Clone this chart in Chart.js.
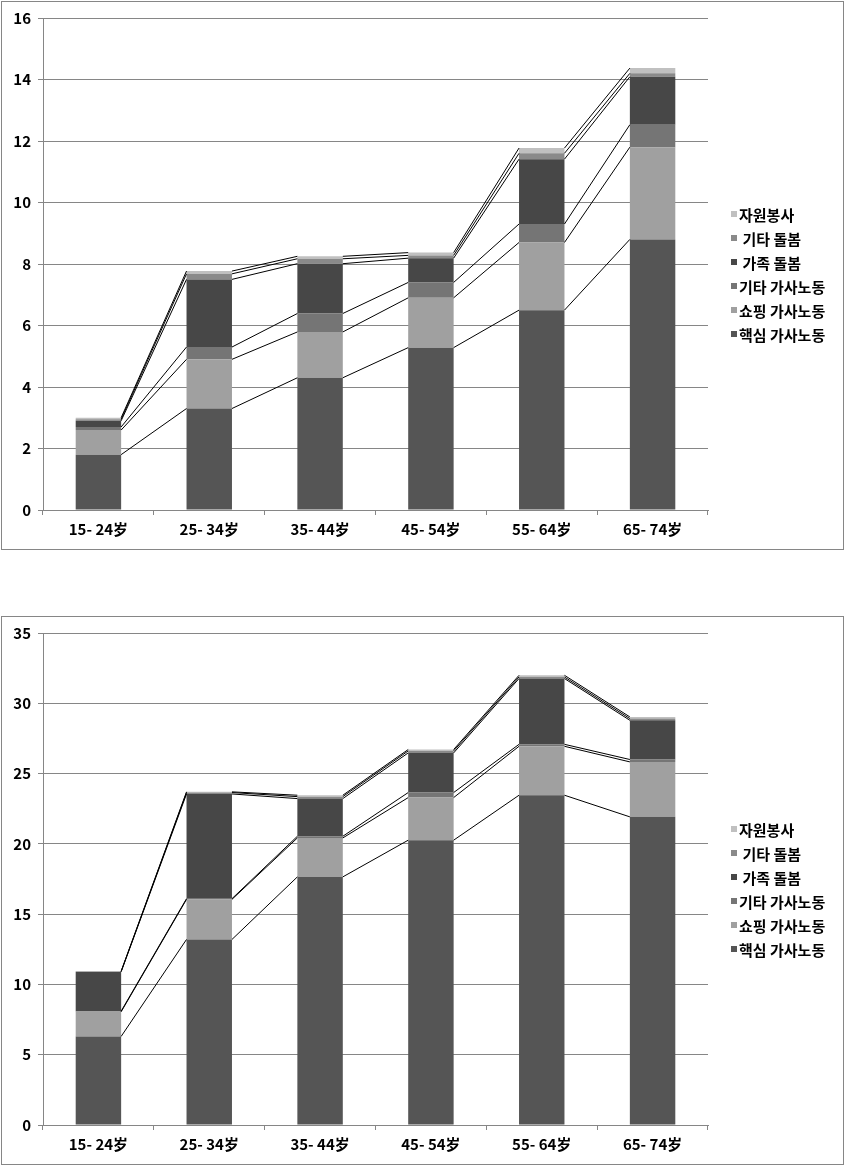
<!DOCTYPE html>
<html>
<head>
<meta charset="utf-8">
<script src="https://cdn.jsdelivr.net/npm/chart.js@4"></script>
<style>
    body { margin: 0; background: #fff; }
    .box { position: absolute; left: 1px; width: 841px; border: 1px solid #868686; background: #fff; }
    #box1 { top: 1px; height: 547px; }
    #box2 { top: 616px; height: 547px; }
    canvas { display: block; }
</style>
</head>
<body>
<div class="box" id="box1"><canvas id="chart1" width="841" height="547"></canvas></div>
<div class="box" id="box2"><canvas id="chart2" width="841" height="547"></canvas></div>
<script>
var ageGroups = ['15- 24岁', '25- 34岁', '35- 44岁', '45- 54岁', '55- 64岁', '65- 74岁'];
var seriesNames = ['핵심 가사노동', '쇼핑 가사노동', '기타 가사노동', ' 가족 돌봄', ' 기타 돌봄', '자원봉사'];
var seriesColors = ['#555555', '#a0a0a0', '#757575', '#474747', '#8a8a8a', '#c0c0c0'];

// top chart
var core1 = [1.8, 3.3, 4.3, 5.28, 6.5, 8.8];
var shopping1 = [0.8, 1.6, 1.49, 1.62, 2.2, 3.0];
var otherHouse1 = [0.1, 0.4, 0.6, 0.5, 0.6, 0.73];
var family1 = [0.2, 2.2, 1.62, 0.79, 2.11, 1.56];
var otherCare1 = [0.05, 0.18, 0.16, 0.09, 0.19, 0.11];
var volunteer1 = [0.05, 0.09, 0.08, 0.09, 0.17, 0.17];

// bottom chart
var core2 = [6.3, 13.2, 17.65, 20.26, 23.46, 21.92];
var shopping2 = [1.75, 2.85, 2.77, 3.03, 3.48, 3.91];
var otherHouse2 = [0.05, 0.05, 0.12, 0.36, 0.14, 0.17];
var family2 = [2.8, 7.45, 2.68, 2.82, 4.68, 2.79];
var otherCare2 = [0.02, 0.1, 0.14, 0.14, 0.11, 0.12];
var volunteer2 = [0.02, 0.05, 0.1, 0.1, 0.12, 0.12];

var yMax1 = 16, yStep1 = 2;
var yMax2 = 35, yStep2 = 5;

var tickFont = { family: "'Noto Sans CJK KR', 'Noto Sans', sans-serif", size: 15, weight: 'bold' };
var gridColor = '#868686';

// lines joining the tops of each segment from bar to bar
var seriesLinesPlugin = {
    id: 'seriesLines',
    afterDatasetsDraw: function(chart) {
        var ctx = chart.ctx;
        ctx.save();
        ctx.strokeStyle = '#000';
        ctx.lineWidth = 1;
        chart.data.datasets.forEach(function(ds, d) {
            var bars = chart.getDatasetMeta(d).data;
            for (let i = 0; i < bars.length - 1; i++) {
                let a = bars[i], b = bars[i + 1];
                ctx.beginPath();
                ctx.moveTo(a.x + a.width / 2, a.y);
                ctx.lineTo(b.x - b.width / 2, b.y);
                ctx.stroke();
            }
        });
        ctx.restore();
    }
};

// legend at the right, top item = last series
var sideLegendPlugin = {
    id: 'sideLegend',
    afterDraw: function(chart) {
        var ctx = chart.ctx;
        var x = chart.chartArea.right + 23;
        var y = 212;
        ctx.save();
        ctx.font = "bold 15px 'Noto Sans CJK KR', sans-serif";
        ctx.textBaseline = 'middle';
        ctx.textAlign = 'left';
        var sets = chart.data.datasets;
        for (let k = sets.length - 1; k >= 0; k--) {
            ctx.fillStyle = sets[k].backgroundColor;
            ctx.fillRect(x, y - 3, 6, 6);
            ctx.fillStyle = '#000';
            ctx.fillText(sets[k].label, x + 8, y + 1);
            y += 24;
        }
        ctx.restore();
    }
};

function makeChart(id, series, yMax, yStep) {
    var datasets = series.map(function(vals, k) {
        return {
            label: seriesNames[k],
            data: vals,
            backgroundColor: seriesColors[k],
            borderWidth: 0,
            categoryPercentage: 1,
            barPercentage: 0.41
        };
    });
    return new Chart(document.getElementById(id), {
        type: 'bar',
        data: { labels: ageGroups, datasets: datasets },
        plugins: [seriesLinesPlugin, sideLegendPlugin],
        options: {
            responsive: false,
            animation: false,
            layout: { padding: { top: 15, right: 135, left: 0, bottom: 0 } },
            plugins: { legend: { display: false }, tooltip: { enabled: false } },
            scales: {
                x: {
                    stacked: true,
                    grid: { drawOnChartArea: false, drawTicks: true, tickLength: 5, color: gridColor },
                    border: { color: gridColor },
                    ticks: { color: '#000', font: tickFont, padding: 5, maxRotation: 0 },
                    afterFit: function(s) { s.height = 39; }
                },
                y: {
                    stacked: true,
                    min: 0,
                    max: yMax,
                    grid: { color: gridColor, tickLength: 5 },
                    border: { color: gridColor },
                    ticks: { stepSize: yStep, color: '#000', font: tickFont, padding: 7 },
                    afterFit: function(s) { s.width = 41; }
                }
            }
        }
    });
}

makeChart('chart1', [core1, shopping1, otherHouse1, family1, otherCare1, volunteer1], yMax1, yStep1);
makeChart('chart2', [core2, shopping2, otherHouse2, family2, otherCare2, volunteer2], yMax2, yStep2);
</script>
</body>
</html>
